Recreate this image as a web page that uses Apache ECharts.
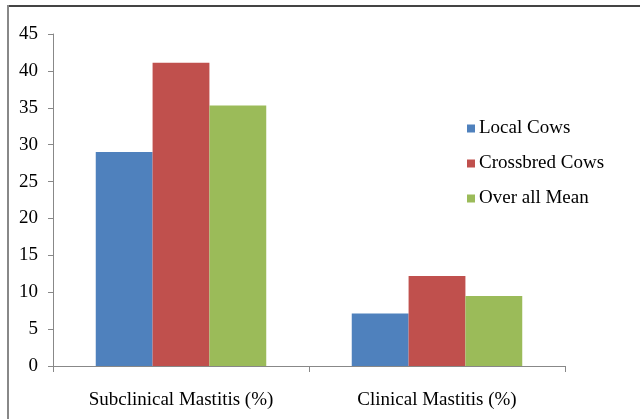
<!DOCTYPE html>
<html>
<head>
<meta charset="utf-8">
<script src="https://cdn.jsdelivr.net/npm/echarts@6/dist/echarts.min.js"></script>
<style>
  html, body { margin: 0; padding: 0; background: #fff; }
  #chart { width: 640px; height: 419px; }
</style>
</head>
<body>
<div id="chart"></div>
<script>
// Prevalence of mastitis by cow group
const categories = ['Subclinical Mastitis (%)', 'Clinical Mastitis (%)'];
const seriesNames = ['Local Cows', 'Crossbred Cows', 'Over all Mean'];
const localCows = [29.0, 7.1];
const crossbredCows = [41.1, 12.2];
const overallMean = [35.3, 9.5];
const colors = ['#4F81BD', '#C0504D', '#9BBB59'];

const font = 'Liberation Serif';
const chart = echarts.init(document.getElementById('chart'), null, { renderer: 'canvas' });

const values = [localCows, crossbredCows, overallMean];

chart.setOption({
  animation: false,
  backgroundColor: '#fff',
  textStyle: { fontFamily: font },
  grid: { left: 53, right: 75, top: 34, bottom: 53, containLabel: false },
  legend: {
    orient: 'vertical',
    left: 462,
    top: 114,
    icon: 'rect',
    itemWidth: 8,
    itemHeight: 8,
    itemGap: 16,
    textStyle: { fontFamily: font, fontSize: 19, color: '#000', padding: [0, 0, 0, -1] },
    data: seriesNames
  },
  xAxis: {
    type: 'category',
    data: categories,
    axisLine: { lineStyle: { color: '#888', width: 1 } },
    axisTick: { show: true, alignWithLabel: false, length: 6, lineStyle: { color: '#888' } },
    axisLabel: { fontFamily: font, fontSize: 19, color: '#000', margin: 25 }
  },
  yAxis: {
    type: 'value',
    min: 0,
    max: 45,
    interval: 5,
    splitLine: { show: false },
    axisLine: { show: true, lineStyle: { color: '#888', width: 1 } },
    axisTick: { show: true, length: 5, lineStyle: { color: '#888' } },
    axisLabel: { fontFamily: font, fontSize: 19, color: '#000', margin: 15 }
  },
  series: seriesNames.map((name, i) => ({
    name: name,
    type: 'bar',
    data: values[i],
    barGap: '0%',
    barCategoryGap: '33.4%',
    itemStyle: { color: colors[i] }
  })),
  graphic: [
    { type: 'line', shape: { x1: 8, y1: 6, x2: 640, y2: 6 }, style: { stroke: '#444', lineWidth: 2 } },
    { type: 'line', shape: { x1: 8, y1: 5, x2: 8, y2: 419 }, style: { stroke: '#888', lineWidth: 2 } }
  ]
});
</script>
</body>
</html>
